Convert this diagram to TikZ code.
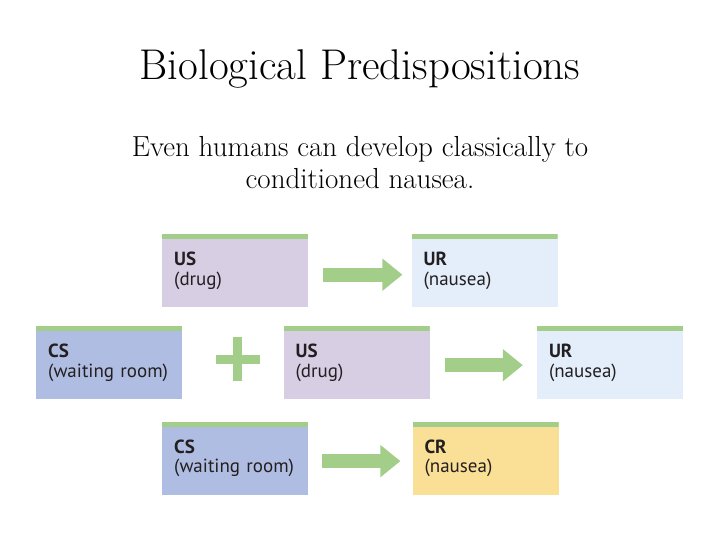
\documentclass[tikz,border=0pt]{standalone}
\usepackage{fontspec}
\newfontfamily\boxfont{PT Sans}
\usetikzlibrary{arrows.meta, positioning}

\definecolor{barcol}{HTML}{A3CE89}
\definecolor{usfill}{HTML}{D8CEE4}
\definecolor{urfill}{HTML}{E3EEFA}
\definecolor{csfill}{HTML}{B0BDE2}
\definecolor{crfill}{HTML}{FAE096}
\definecolor{boxtext}{HTML}{231F20}

\begin{document}
\begin{tikzpicture}[
    x=1pt, y=-1pt,
    every node/.style={inner sep=0pt},
    box/.style={
        rectangle,
        anchor=north west,
        text width=122pt,
        inner xsep=12pt,
        minimum height=73pt,
        align=left,
        text=boxtext,
        font=\boxfont\fontsize{19}{19.5}\selectfont,
        path picture={
            \fill[barcol] (path picture bounding box.north west)
                rectangle ([yshift=-5pt]path picture bounding box.north east);
        }
    },
    usbox/.style={box, fill=usfill},
    urbox/.style={box, fill=urfill},
    csbox/.style={box, fill=csfill},
    crbox/.style={box, fill=crfill},
    fatarrow/.style={
        draw=barcol,
        line width=14pt,
        -{Triangle[length=20pt, width=31pt]}
    }
]

% page
\useasboundingbox[fill=white] (0,0) rectangle (720,540);

% Title and text
\node[anchor=base, font=\fontsize{43}{50}\selectfont] (title) at (360,80)
    {Biological Predispositions};
\node[anchor=base, align=center, font=\fontsize{29}{32}\selectfont] (subtitle) at (360,189)
    {Even humans can develop classically to\\conditioned nausea.};

% Row 1: before conditioning
\node[usbox] (us1) at (162,234) {\textbf{US}\\(drug)};
\node[urbox, right=103pt of us1] (ur1) {\textbf{UR}\\(nausea)};

% Row 2: during conditioning
\node[csbox] (cs2) at (36,326) {\textbf{CS}\\(waiting room)};
\node[usbox, right=101pt of cs2] (us2) {\textbf{US}\\(drug)};
\node[urbox, right=107pt of us2] (ur2) {\textbf{UR}\\(nausea)};
\coordinate (plus) at (237.5,359);

% Row 3: after conditioning
\node[csbox, below=114pt of us1] (cs3) {\textbf{CS}\\(waiting room)};
\node[crbox, right=104pt of cs3] (cr3) {\textbf{CR}\\(nausea)};

% Arrows
\draw[fatarrow, shorten <=15pt, shorten >=9pt] ([yshift=-4pt]us1.east) -- ([yshift=-4pt]ur1.west);
\draw[fatarrow, shorten <=15pt, shorten >=14pt] ([yshift=-2.5pt]us2.east) -- ([yshift=-2.5pt]ur2.west);
\draw[fatarrow, shorten <=14pt, shorten >=12pt] ([yshift=-3pt]cs3.east) -- ([yshift=-3pt]cr3.west);

% Plus sign
\fill[barcol] ([xshift=-22pt, yshift=-4.5pt]plus) rectangle ([xshift=22pt, yshift=4.5pt]plus);
\fill[barcol] ([xshift=-4.5pt, yshift=-22pt]plus) rectangle ([xshift=4.5pt, yshift=22pt]plus);

\end{tikzpicture}
\end{document}
